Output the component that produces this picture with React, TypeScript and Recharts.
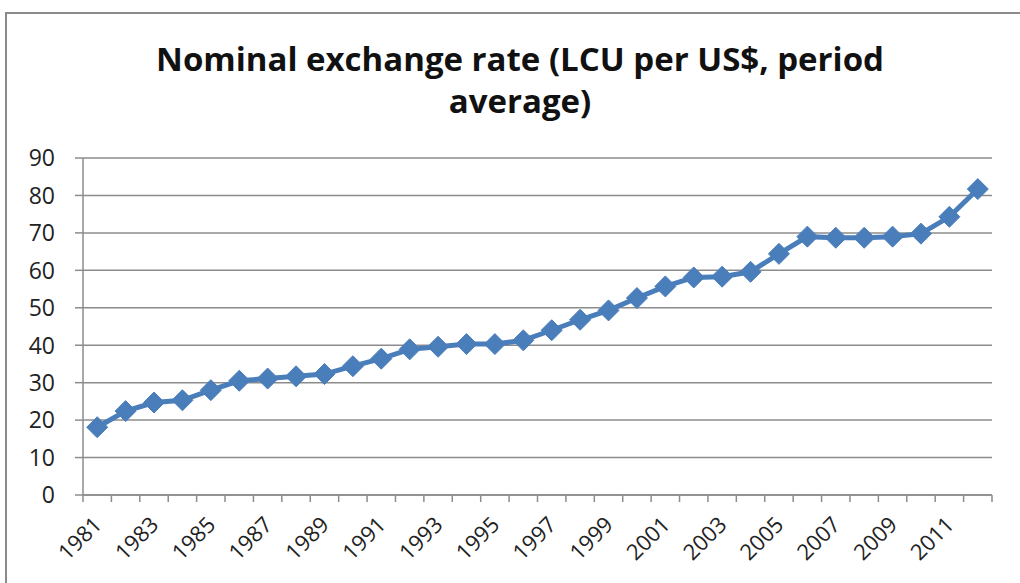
import { LineChart, Line, XAxis, YAxis, CartesianGrid } from "recharts";

// Years 1981..2012 and period-average rate
const YEARS = [
  1981, 1982, 1983, 1984, 1985, 1986, 1987, 1988, 1989, 1990, 1991, 1992, 1993, 1994, 1995, 1996,
  1997, 1998, 1999, 2000, 2001, 2002, 2003, 2004, 2005, 2006, 2007, 2008, 2009, 2010, 2011, 2012,
];
const RATE = [
  18.1, 22.4, 24.7, 25.3, 28.0, 30.5, 31.1, 31.7, 32.3, 34.4, 36.4, 38.9, 39.6, 40.3, 40.3, 41.3,
  44.0, 46.8, 49.3, 52.6, 55.7, 58.1, 58.3, 59.6, 64.4, 69.0, 68.7, 68.7, 69.0, 69.8, 74.3, 81.7,
];
const Y_TICKS = [0, 10, 20, 30, 40, 50, 60, 70, 80, 90];
// tick marks sit between the years (Excel style), labels on every other year
const BOUNDS = [...YEARS.map((y) => y - 0.5), YEARS[YEARS.length - 1] + 0.5];

const BLUE = "#4A7EBB";
const GRID = "#8C8C8C";
const TEXT = "#222";
const FONT = "'Open Sans', 'Liberation Sans', sans-serif";

const W = 1020;
const H = 583;
const MARGIN = { top: 158, right: 28, bottom: 0, left: 0 };
const Y_AXIS_W = 83;
const HALF_BAND = (W - MARGIN.left - MARGIN.right - Y_AXIS_W) / YEARS.length / 2;

const data = YEARS.map((year, i) => ({ year, rate: RATE[i] }));

function Diamond(props: any) {
  const { cx, cy } = props;
  if (cx == null || cy == null) return null;
  const r = 10.5;
  return (
    <polygon
      points={`${cx},${cy - r} ${cx + r},${cy} ${cx},${cy + r} ${cx - r},${cy}`}
      fill={BLUE}
      stroke={BLUE}
    />
  );
}

function YearTick(props: any) {
  const { x, y, payload } = props;
  const year = payload.value + 0.5;
  if (year > YEARS[YEARS.length - 1] || (year - YEARS[0]) % 2 !== 0) return <g />;
  return (
    <g transform={`translate(${x + HALF_BAND + 6},${y + 22})`}>
      <text
        transform="rotate(-45)"
        textAnchor="end"
        style={{ fontSize: 22, fontFamily: FONT, fill: TEXT }}
      >
        {year}
      </text>
    </g>
  );
}

function RateTick(props: any) {
  const { x, y, payload } = props;
  return (
    <text
      x={x}
      y={y}
      dy="0.36em"
      textAnchor="end"
      style={{ fontSize: 23, fontFamily: FONT, fill: TEXT }}
    >
      {payload.value}
    </text>
  );
}

export default function App() {
  return (
    <div
      style={{
        position: "absolute",
        left: 0,
        top: 0,
        width: W,
        height: H,
        overflow: "hidden",
        background: "#fff",
      }}
    >
      {/* chart frame, runs off the right and bottom edges */}
      <div
        style={{
          position: "absolute",
          left: 5,
          top: 12,
          width: 1040,
          height: 620,
          border: "2px solid #8a8a8a",
          boxSizing: "border-box",
        }}
      />
      <div
        style={{
          position: "absolute",
          left: 0,
          top: 38,
          width: 1040,
          textAlign: "center",
          fontFamily: FONT,
          fontWeight: 700,
          fontSize: 33,
          lineHeight: "42px",
          color: "#111",
        }}
      >
        Nominal exchange rate (LCU per US$, period
        <br />
        average)
      </div>
      <div style={{ position: "absolute", left: 0, top: 0 }}>
        <LineChart width={W} height={H} data={data} margin={MARGIN}>
          <CartesianGrid vertical={false} stroke={GRID} strokeWidth={1.5} />
          <XAxis
            dataKey="year"
            type="number"
            domain={[BOUNDS[0], BOUNDS[BOUNDS.length - 1]]}
            ticks={BOUNDS}
            interval={0}
            height={88}
            tick={<YearTick />}
            tickSize={7}
            tickMargin={2}
            tickLine={{ stroke: GRID, strokeWidth: 1.5 }}
            axisLine={{ stroke: GRID, strokeWidth: 1.5 }}
            allowDataOverflow
          />
          <YAxis
            domain={[0, 90]}
            ticks={Y_TICKS}
            interval={0}
            width={Y_AXIS_W}
            tickSize={8}
            tickMargin={20}
            tickLine={{ stroke: GRID, strokeWidth: 1.5 }}
            axisLine={{ stroke: GRID, strokeWidth: 1.5 }}
            tick={<RateTick />}
          />
          <Line
            dataKey="rate"
            stroke={BLUE}
            strokeWidth={5}
            dot={<Diamond />}
            activeDot={false}
            isAnimationActive={false}
          />
        </LineChart>
      </div>
    </div>
  );
}
